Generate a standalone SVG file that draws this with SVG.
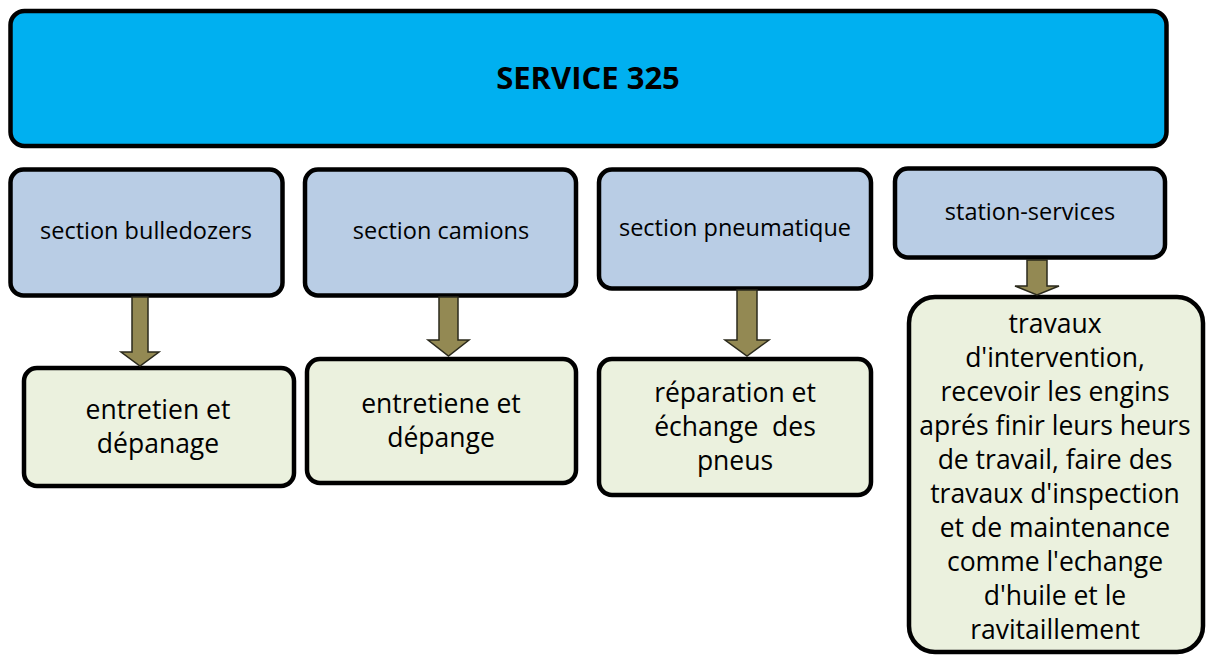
<svg xmlns="http://www.w3.org/2000/svg" width="1206" height="655" viewBox="0 0 1206 655">
  <style>
    .box { stroke: #000; stroke-width: 4.5; }
    .top { fill: #00B0F0; }
    .sec { fill: #B9CDE5; }
    .task { fill: #EBF1DE; }
    .arrow { fill: #938953; stroke: #2b2a1c; stroke-width: 1.5; stroke-linejoin: miter; }
    text { font-family: "Open Sans", "Liberation Sans", sans-serif; fill: #000; text-anchor: middle; }
    .title { font-size: 31px; font-weight: bold; }
    .lbl { font-size: 23.5px; }
    .txt { font-size: 26.5px; }
  </style>

  <!-- top-level service -->
  <g id="service">
    <rect class="box top" x="10.5" y="11" width="1156" height="135" rx="14"/>
    <text class="title" x="588" y="89">SERVICE 325</text>
  </g>

  <!-- sections -->
  <g id="sec-bulledozers">
    <rect class="box sec" x="10.5" y="169.5" width="272" height="126" rx="13"/>
    <text class="lbl" x="146" y="239">section bulledozers</text>
  </g>
  <g id="sec-camions">
    <rect class="box sec" x="305" y="169.5" width="271" height="126" rx="13"/>
    <text class="lbl" x="441" y="239">section camions</text>
  </g>
  <g id="sec-pneumatique">
    <rect class="box sec" x="599" y="169.5" width="272" height="119" rx="13"/>
    <text class="lbl" x="735" y="236">section pneumatique</text>
  </g>
  <g id="sec-station">
    <rect class="box sec" x="895" y="168.5" width="270" height="89" rx="13"/>
    <text class="lbl" x="1030" y="220">station-services</text>
  </g>

  <!-- tasks -->
  <g id="task-bulledozers">
    <rect class="box task" x="24" y="368" width="270" height="118" rx="13"/>
    <text class="txt" x="158" y="419">entretien et</text>
    <text class="txt" x="158" y="453">dépanage</text>
  </g>
  <g id="task-camions">
    <rect class="box task" x="307" y="359" width="269" height="124" rx="13"/>
    <text class="txt" x="441" y="413">entretiene et</text>
    <text class="txt" x="441" y="447">dépange</text>
  </g>
  <g id="task-pneumatique">
    <rect class="box task" x="599" y="359" width="272" height="136" rx="13"/>
    <text class="txt" x="735" y="402">réparation et</text>
    <text class="txt" x="735" y="436" xml:space="preserve">échange  des</text>
    <text class="txt" x="735" y="470">pneus</text>
  </g>
  <g id="task-station">
    <rect class="box task" x="909" y="297" width="294" height="355" rx="26"/>
    <text class="txt" x="1055" y="333">travaux</text>
    <text class="txt" x="1055" y="367">d'intervention,</text>
    <text class="txt" x="1055" y="401">recevoir les engins</text>
    <text class="txt" x="1055" y="435">aprés finir leurs heurs</text>
    <text class="txt" x="1055" y="469">de travail, faire des</text>
    <text class="txt" x="1055" y="503">travaux d'inspection</text>
    <text class="txt" x="1055" y="537">et de maintenance</text>
    <text class="txt" x="1055" y="571">comme l'echange</text>
    <text class="txt" x="1055" y="605">d'huile et le</text>
    <text class="txt" x="1055" y="639">ravitaillement</text>
  </g>

  <!-- connectors: block arrows from each section to its tasks -->
  <g id="connectors">
    <polygon class="arrow" points="132,297 148,297 148,352 159,352 140,366 121,352 132,352"/>
    <polygon class="arrow" points="439,297 458,297 458,340 469,340 448.5,356 428,340 439,340"/>
    <polygon class="arrow" points="737,290 757,290 757,340 769,340 747,356 725,340 737,340"/>
    <polygon class="arrow" points="1027,260 1047,260 1047,286 1059,286 1037,295 1015,286 1027,286"/>
  </g>
</svg>
